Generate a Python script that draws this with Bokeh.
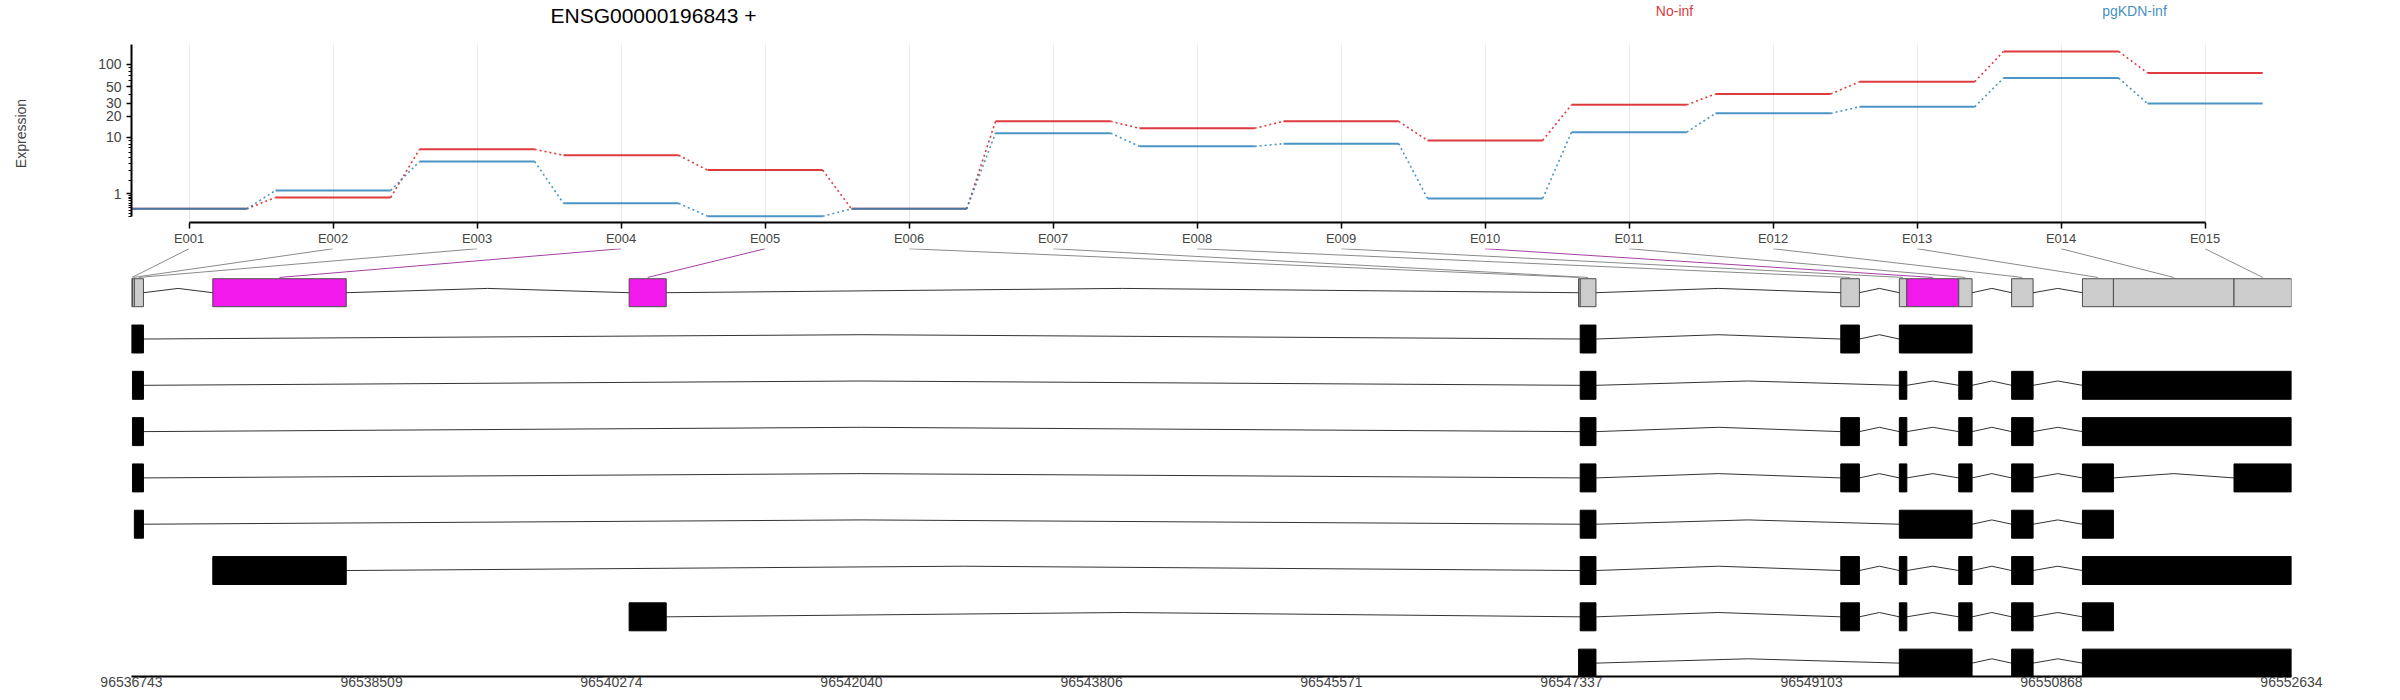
import numpy as np
from bokeh.plotting import figure
from bokeh.models import (Range1d, FixedTicker, CustomJSTickFormatter,
                          NumeralTickFormatter, ColumnDataSource)
from bokeh.core.properties import value
from bokeh.layouts import column
from bokeh.embed import file_html
from bokeh.resources import INLINE

# ---------------- data ----------------
gene_title = "ENSG00000196843 +"
exon_ids = ["E001", "E002", "E003", "E004", "E005", "E006", "E007", "E008",
            "E009", "E010", "E011", "E012", "E013", "E014", "E015"]
conditions = ["No-inf", "pgKDN-inf"]
no_inf = [0.26, 0.78, 6.66, 5.40, 3.08, 0.26, 16.9, 13.5, 16.9, 9.04,
          28.5, 40.1, 58.4, 148.0, 76.8]
pgkdn_inf = [0.26, 1.20, 4.30, 0.49, 0.01, 0.26, 11.5, 7.39, 8.09, 0.73,
             11.9, 21.8, 26.8, 65.4, 29.7]
y_tick_values = [1, 10, 20, 30, 50, 100]
y_minor_values = [0.0, 0.1, 0.2, 0.3, 0.4, 0.5, 0.6, 0.7, 0.8, 0.9,
                  2, 3, 4, 5, 6, 7, 8, 9, 40, 60, 70, 80, 90]

bin_start = [96536743, 96536750, 96536764, 96537341, 96540404, 96547389,
             96547401, 96549318, 96549749, 96549804, 96550186, 96550575,
             96551096, 96551324, 96552211]
bin_end = [96536750, 96536764, 96536831, 96538323, 96540677, 96547401,
           96547517, 96549455, 96549804, 96550186, 96550284, 96550733,
           96551324, 96552211, 96552634]
significant = ["E004", "E005", "E010"]

transcript_bins = [
    ["E001", "E002", "E003", "E007", "E008", "E009", "E010", "E011"],
    ["E002", "E003", "E007", "E009", "E011", "E012", "E013", "E014", "E015"],
    ["E002", "E003", "E007", "E008", "E009", "E011", "E012", "E013", "E014", "E015"],
    ["E002", "E003", "E007", "E008", "E009", "E011", "E012", "E013", "E015"],
    ["E003", "E007", "E009", "E010", "E011", "E012", "E013"],
    ["E004", "E007", "E008", "E009", "E011", "E012", "E013", "E014", "E015"],
    ["E005", "E007", "E008", "E009", "E011", "E012", "E013"],
    ["E006", "E007", "E009", "E010", "E011", "E012", "E013", "E014", "E015"],
]
genome_ticks = [96536743, 96538509, 96540274, 96542040, 96543806,
                96545571, 96547337, 96549103, 96550868, 96552634]

# ---------------- styles ----------------
FONT = "Liberation Sans"
RED, BLUE = "#D7191C", "#2B83BA"
W = 2400
ML, MR = 131, 109
X_LO, X_HI = 0.6, 15.6
G_LO, G_HI = genome_ticks[0], genome_ticks[-1]
LOG_TOP = 2.2647
PX_PER_DEC = 76.8
HEAD_H = 44
TOP_H, TOP_MB = 204, 24
frame_h = TOP_H - TOP_MB
LOG_BOT = LOG_TOP - frame_h / PX_PER_DEC

x_range_top = Range1d(X_LO, X_HI)


def top_x(page_x):
    return X_LO + (page_x - ML) / ((W - ML - MR) / (X_HI - X_LO))


# ---------------- header (title + condition names) ----------------
p0 = figure(width=W, height=HEAD_H, output_backend="svg", toolbar_location=None,
            x_range=x_range_top, y_range=Range1d(HEAD_H, 0),
            min_border_left=ML, min_border_right=MR,
            min_border_top=0, min_border_bottom=0)
p0.outline_line_color = None
p0.grid.grid_line_color = None
p0.axis.visible = False
p0.text(x=[top_x(653)], y=[15], text=[gene_title], text_font=value(FONT),
        text_font_size="21px", text_align="center", text_baseline="middle",
        text_color="black")
p0.text(x=[top_x(1674), top_x(2134)], y=[10, 10], text=conditions,
        text_color=[RED, BLUE], text_alpha=0.9, text_font=value(FONT),
        text_font_size="14px", text_align="center", text_baseline="middle")

# ---------------- top expression panel ----------------
p1 = figure(width=W, height=TOP_H, output_backend="svg", toolbar_location=None,
            x_range=x_range_top,
            y_range=Range1d(10 ** LOG_BOT, 10 ** LOG_TOP), y_axis_type="log",
            min_border_left=ML, min_border_right=MR,
            min_border_top=0, min_border_bottom=TOP_MB)
p1.outline_line_color = None
p1.ygrid.grid_line_color = None
p1.xgrid.grid_line_color = "#E8E8E8"
p1.xgrid.grid_line_width = 1

idx = np.arange(1, len(exon_ids) + 1)
for vals, col in ((no_inf, RED), (pgkdn_inf, BLUE)):
    yv = np.array(vals) + 1.0
    src = ColumnDataSource(dict(x0=idx - 0.4, x1=idx + 0.4, y=yv))
    p1.segment(x0="x0", x1="x1", y0="y", y1="y", source=src,
               line_color=col, line_alpha=0.85, line_width=2)
    dsrc = ColumnDataSource(dict(x0=idx[:-1] + 0.4, x1=idx[1:] - 0.4,
                                 y0=yv[:-1], y1=yv[1:]))
    p1.segment(x0="x0", x1="x1", y0="y0", y1="y1", source=dsrc,
               line_color=col, line_alpha=0.85, line_width=1.6,
               line_dash="2 3")

xa = p1.xaxis[0]
xa.ticker = FixedTicker(ticks=list(range(1, len(exon_ids) + 1)))
xa.major_label_overrides = {i + 1: e for i, e in enumerate(exon_ids)}
xa.bounds = (1, len(exon_ids))
xa.axis_line_width = 2
xa.major_tick_line_width = 1.5
xa.major_tick_out = 6
xa.major_tick_in = 0
xa.minor_tick_line_color = None
xa.major_label_standoff = 2
xa.major_label_text_font = FONT
xa.major_label_text_font_size = "13px"

ya = p1.yaxis[0]
ya.ticker = FixedTicker(ticks=[v + 1 for v in y_tick_values],
                        minor_ticks=[v + 1 for v in y_minor_values])
ya.formatter = CustomJSTickFormatter(code="return String(Math.round(tick - 1));")
ya.bounds = (1, 10 ** LOG_TOP)
ya.axis_line_width = 2
ya.major_tick_out = 5
ya.major_tick_in = 0
ya.minor_tick_out = 3
ya.minor_tick_in = 0
ya.major_tick_line_width = 1.5
ya.major_label_standoff = 5
ya.major_label_text_font = FONT
ya.major_label_text_font_size = "14px"
ya.axis_label = "Expression"
ya.axis_label_text_font = FONT
ya.axis_label_text_font_size = "14px"
ya.axis_label_text_font_style = "normal"
ya.axis_label_standoff = 66

# ---------------- bottom gene model panel ----------------
BOT_H = 700 - HEAD_H - TOP_H
BOT_MB = 24
HALF = 0.302
PEAK = 0.093
Y_TOP = 0.955
Y_BOT = Y_TOP - (BOT_H - BOT_MB) / 46.3

p2 = figure(width=W, height=BOT_H, output_backend="svg", toolbar_location=None,
            x_range=Range1d(G_LO, G_HI), y_range=Range1d(Y_BOT, Y_TOP),
            min_border_left=ML, min_border_right=MR,
            min_border_top=0, min_border_bottom=BOT_MB)
p2.outline_line_color = None
p2.grid.grid_line_color = None
p2.yaxis.visible = False

bs = np.array(bin_start, dtype=float)
be = np.array(bin_end, dtype=float)
bmid = (bs + be) / 2
sig = [e in significant for e in exon_ids]

# connector lines from exon labels to bins
tick_g = G_LO + (idx - X_LO) / (X_HI - X_LO) * (G_HI - G_LO)
csrc = ColumnDataSource(dict(x0=tick_g, x1=bmid, y0=[0.95] * len(idx),
                             y1=[0.33] * len(idx),
                             c=["#A53FA5" if s else "#8A8A8A" for s in sig]))
p2.segment(x0="x0", x1="x1", y0="y0", y1="y1", source=csrc,
           line_color="c", line_width=1)

# gene model row (row 0)
gsrc = ColumnDataSource(dict(l=bs, r=be,
                             c=["#F219ED" if s else "#CCCCCC" for s in sig]))
p2.quad(left="l", right="r", top=HALF, bottom=-HALF, source=gsrc,
        fill_color="c", line_color="#4D4D4D", line_width=1)


def intron_lines(starts, ends, yc):
    xs, ys = [], []
    for k in range(len(starts) - 1):
        a, b = ends[k], starts[k + 1]
        if b > a:
            xs.append([a, (a + b) / 2, b])
            ys.append([yc, yc + PEAK, yc])
    return xs, ys


xs, ys = intron_lines(bs, be, 0.0)
p2.multi_line(xs=xs, ys=ys, line_color="#333333", line_width=1)

# transcripts
for t, bins in enumerate(transcript_bins):
    yc = -(t + 1)
    ids = [exon_ids.index(b) for b in bins]
    ex_s, ex_e = [], []
    for k in ids:
        if ex_e and ex_e[-1] == bs[k]:
            ex_e[-1] = be[k]
        else:
            ex_s.append(bs[k])
            ex_e.append(be[k])
    xs, ys = intron_lines(ex_s, ex_e, yc)
    p2.multi_line(xs=xs, ys=ys, line_color="#333333", line_width=1)
    p2.quad(left=ex_s, right=ex_e, top=yc + HALF, bottom=yc - HALF,
            fill_color="black", line_color="black", line_width=1)

ga = p2.xaxis[0]
ga.ticker = FixedTicker(ticks=genome_ticks)
ga.formatter = NumeralTickFormatter(format="0")
ga.axis_line_width = 2
ga.major_tick_out = 0
ga.major_tick_in = 0
ga.minor_tick_line_color = None
ga.major_label_standoff = 0
ga.major_label_text_font = FONT
ga.major_label_text_font_size = "14px"

layout = column(p0, p1, p2, spacing=0)
open("out.html", "w").write(file_html(layout, INLINE))
